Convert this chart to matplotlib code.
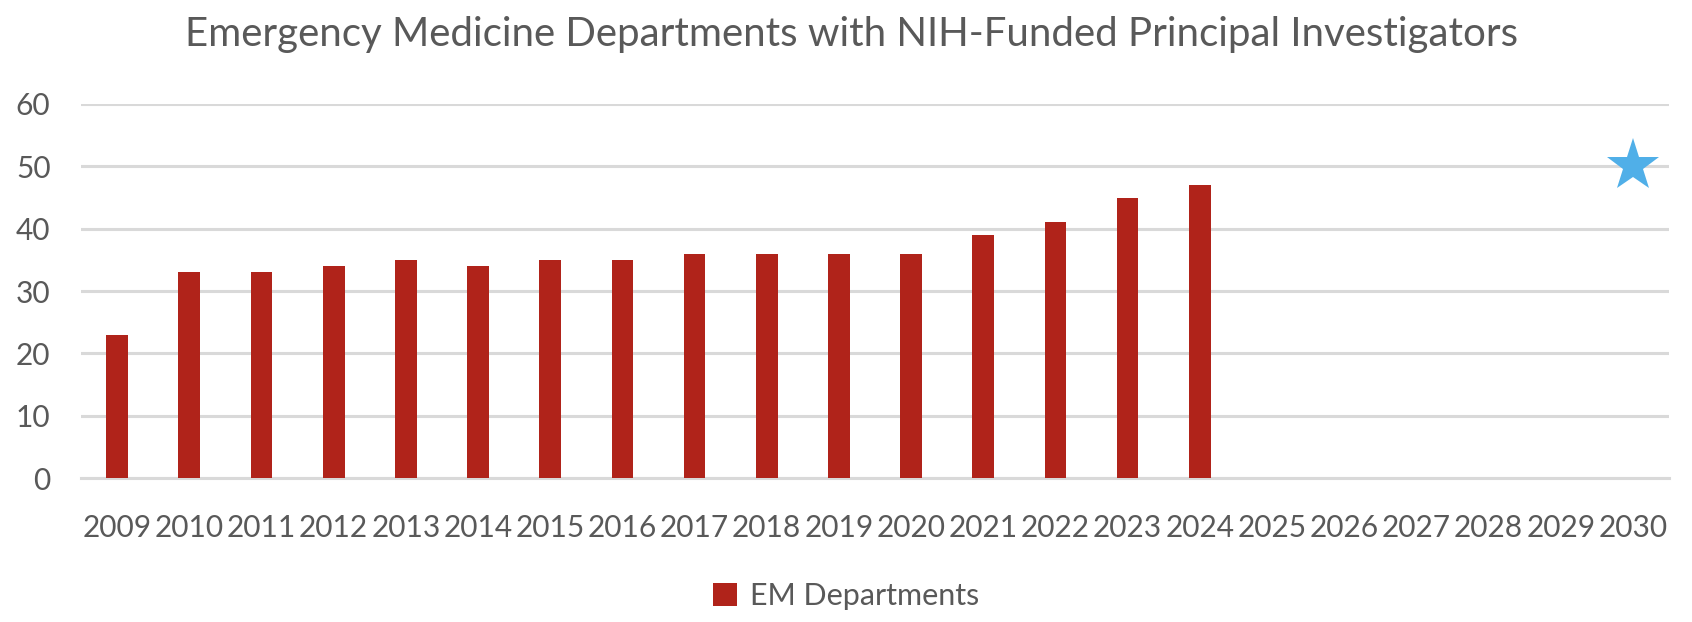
import matplotlib
matplotlib.use("Agg")
import matplotlib.pyplot as plt
from matplotlib.patches import Patch

years = [str(y) for y in range(2009, 2031)]
em_departments = [23, 33, 33, 34, 35, 34, 35, 35, 36, 36, 36, 36, 39, 41, 45, 47]
goal_year = "2030"
goal_value = 50

TEXT = "#595959"
BAR = "#B0231A"
STAR = "#50AFE8"
GRID = "#D9D9D9"

plt.rcParams["font.family"] = ["Lato", "DejaVu Sans"]

fig = plt.figure(figsize=(16.92, 6.22), dpi=100)
ax = fig.add_axes([0.0479, 0.2315, 0.9385, 0.6013])

x = list(range(len(years)))
ax.bar(x[:len(em_departments)], em_departments, width=0.3, color=BAR, zorder=3)
ax.plot(years.index(goal_year), goal_value, marker="*", markersize=40,
        color=STAR, markeredgewidth=0, zorder=4)

ax.set_xlim(-0.5, len(years) - 0.5)
ax.set_ylim(0, 60)
ax.set_yticks(range(0, 61, 10))
ax.set_xticks(x)
ax.set_xticklabels(years)
ax.grid(axis="y", color=GRID, linewidth=2.2, zorder=0)
ax.set_axisbelow(True)
for s in ["top", "right", "left"]:
    ax.spines[s].set_visible(False)
ax.spines["bottom"].set_color(GRID)
ax.spines["bottom"].set_linewidth(2.2)
ax.tick_params(axis="both", length=0, labelsize=21.5, colors=TEXT)
ax.tick_params(axis="x", pad=26)
ax.tick_params(axis="y", pad=22)

fig.text(0.503, 0.945, "Emergency Medicine Departments with NIH-Funded Principal Investigators",
         ha="center", va="center", fontsize=29, color=TEXT)

handles = [Patch(facecolor=BAR, label="EM Departments")]
fig.legend(handles=handles, loc="center", bbox_to_anchor=(0.5, 0.042), frameon=False,
           fontsize=22, labelcolor=TEXT, handlelength=0.8, handleheight=0.8,
           handletextpad=0.4)

fig.savefig("out.png", dpi=100)
